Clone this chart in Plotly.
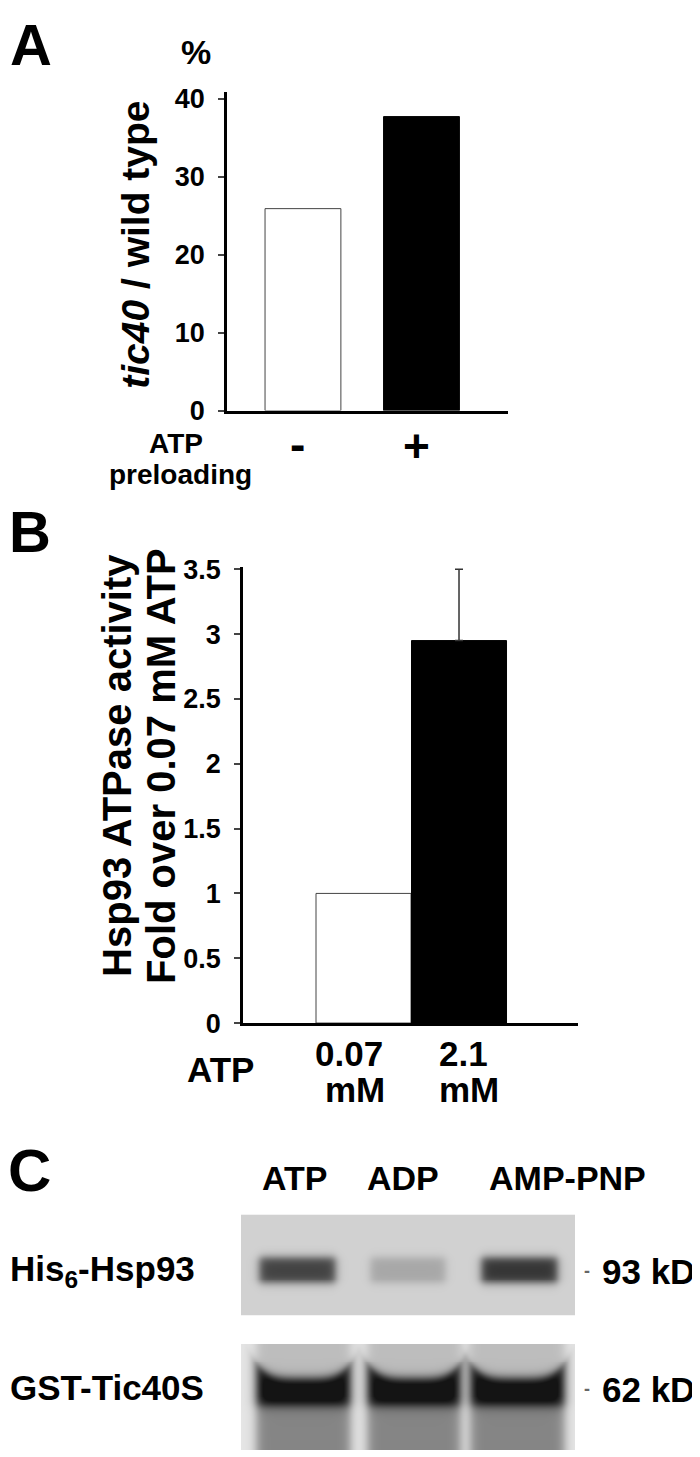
import numpy as np
import plotly.graph_objects as go

W, H = 700, 1457

# Panel A: tic40 / wild type (%)
preload = ["-", "+"]
tic40_pct = [25.9, 37.7]
a_ticks = [0, 10, 20, 30, 40]

# Panel B: Hsp93 ATPase activity, fold over 0.07 mM ATP
atp_conc = ["0.07 mM", "2.1 mM"]
fold_activity = [1.0, 2.95]
fold_err = [0.0, 0.55]
b_ticks = [0, 0.5, 1, 1.5, 2, 2.5, 3, 3.5]
b_ticktext = ["0", "0.5", "1", "1.5", "2", "2.5", "3", "3.5"]

# Panel C: pull-down, relative band darkness per lane
nucleotides = ["ATP", "ADP", "AMP-PNP"]
hsp93_band = [0.75, 0.22, 0.82]
tic40s_band = [1.0, 1.0, 1.0]
size_marks = ["93 kD", "62 kD"]

bar_fill = ["white", "black"]
bar_edge = ["#444444", "black"]

SANS = "Liberation Sans, Arial, sans-serif"


def px(x):
    return x / W


def py(y):
    return 1 - y / H


def label(text, x, y, size, angle=0, color="black", xanchor="center"):
    return dict(text=text, x=px(x), y=py(y), xref="paper", yref="paper",
                showarrow=False, textangle=angle, xanchor=xanchor, yanchor="middle",
                font=dict(size=size, family=SANS, color=color, weight="bold"))


def soft_box(t, lo, hi, soft):
    return 1 / (1 + np.exp(-(t - lo) / soft)) / (1 + np.exp((t - hi) / soft))


fig = go.Figure()

# ---- panel A bars
for i, cat in enumerate(preload):
    fig.add_trace(go.Bar(
        x=[cat], y=[tic40_pct[i]], width=0.64,
        marker=dict(color=bar_fill[i], line=dict(color=bar_edge[i], width=1)),
        xaxis="x", yaxis="y", showlegend=False, hoverinfo="skip"))

# ---- panel B bars
for i, cat in enumerate(atp_conc):
    fig.add_trace(go.Bar(
        x=[cat], y=[fold_activity[i]], width=0.995,
        marker=dict(color=bar_fill[i], line=dict(color=bar_edge[i], width=1)),
        error_y=dict(type="data", symmetric=False, array=[fold_err[i]],
                     arrayminus=[0], visible=fold_err[i] > 0,
                     color="#333333", thickness=1.5, width=4),
        xaxis="x2", yaxis="y2", showlegend=False, hoverinfo="skip"))

# ---- panel C gels
lane_top = [289, 400, 512]
lane_bot = [295, 406, 510]

cols = np.arange(233, 568)
rows_top = np.arange(1217, 1321)
X, Y = np.meshgrid(cols, rows_top)
z_top = np.full(X.shape, 0.18)
for c, d in zip(lane_top, hsp93_band):
    z_top += 0.75 * d * soft_box(X, c - 38, c + 38, 2.5) * soft_box(Y, 1261, 1287, 2.5)
fig.add_trace(go.Heatmap(x=cols, y=rows_top, z=z_top, zmin=0, zmax=1,
                         colorscale=[[0, "white"], [1, "black"]], showscale=False,
                         xaxis="x3", yaxis="y3", hoverinfo="skip"))

rows_bot = np.arange(1349, 1458)
X, Y = np.meshgrid(cols, rows_bot)
z_bot = np.full(X.shape, 0.1)
for c, d in zip(lane_bot, tic40s_band):
    lane = soft_box(X, c - 47, c + 47, 3)
    edge = (np.abs(X - c) / 47.0) ** 4
    band = soft_box(Y, 1384 - 16 * edge, 1412, 3)
    below = 1 / (1 + np.exp(-(Y - 1412) / 3))
    z_bot += lane * (0.16 + 0.22 * below + 0.75 * d * band)
z_bot = np.clip(z_bot, 0, 0.92)
fig.add_trace(go.Heatmap(x=cols, y=rows_bot, z=z_bot, zmin=0, zmax=1,
                         colorscale=[[0, "white"], [1, "black"]], showscale=False,
                         xaxis="x4", yaxis="y4", hoverinfo="skip"))

axis_line = dict(showline=True, linecolor="black", linewidth=2.5, showgrid=False,
                 zeroline=False)
tick_font = dict(size=27, family=SANS, color="black", weight="bold")

annotations = [
    label("A", 23, 25, 58),
    label("%", 188, 33, 34),
    label("<i>tic40</i> / wild type", 128, 229, 39, angle=-90),
    label("ATP", 168, 431, 28),
    label("preloading", 172, 463, 28),
    label("B", 22, 521, 58),
    label("Hsp93 ATPase activity", 109, 760, 40, angle=-90),
    label("Fold over 0.07 mM ATP", 153, 760, 40, angle=-90),
    label("ATP", 212, 1069, 35),
    label("C", 21, 1172, 60),
    label("His<sub>6</sub>-Hsp93", 0, 1275, 35, xanchor="left"),
    label("GST-Tic40S", 0, 1393, 35, xanchor="left"),
]
for cat, yy in zip(preload, [432, 434]):
    a = label(cat, 0, yy, 46)
    a.update(xref="x", x=cat, xshift=-5)
    annotations.append(a)
for cat, xs in zip(atp_conc, [-15, 4]):
    top, bottom = cat.split(" ")
    for txt, yy, shift in [(top, 1053, xs), (bottom, 1090, xs + 6)]:
        a = label(txt, 0, yy, 35)
        a.update(xref="x2", x=cat, xshift=shift)
        annotations.append(a)
for name, xx in zip(nucleotides, [286, 395, 559]):
    annotations.append(label(name, xx, 1180, 34))
for mark, yy in zip(size_marks, [1275, 1395]):
    annotations.append(label("-", 579, yy, 18, color="#666666"))
    annotations.append(label(mark, 640, yy, 35))

fig.update_layout(
    width=W, height=H, margin=dict(l=0, r=0, t=0, b=0),
    paper_bgcolor="white", plot_bgcolor="white",
    barmode="overlay", showlegend=False,
    xaxis=dict(domain=[px(219), px(500)], range=[-0.641, 1.73], anchor="y",
               ticks="", showticklabels=False, **axis_line),
    yaxis=dict(domain=[py(398), py(73)], range=[0, 40.9], anchor="x",
               tickvals=a_ticks, ticks="outside", ticklen=6, tickwidth=2,
               tickfont=tick_font, ticklabelstandoff=8, **axis_line),
    xaxis2=dict(domain=[px(235), px(570)], range=[-1.262, 2.246], anchor="y2",
                ticks="", showticklabels=False, **axis_line),
    yaxis2=dict(domain=[py(1022), py(557)], range=[0, 3.52], anchor="x2",
                tickvals=b_ticks, ticktext=b_ticktext, ticks="outside",
                ticklen=6, tickwidth=2, tickfont=tick_font,
                ticklabelstandoff=8, **axis_line),
    xaxis3=dict(domain=[px(233), px(567)], range=[232.5, 567.5], anchor="y3",
                visible=False),
    yaxis3=dict(domain=[py(1320), py(1217)], range=[1320.5, 1216.5], anchor="x3",
                visible=False),
    xaxis4=dict(domain=[px(233), px(567)], range=[232.5, 567.5], anchor="y4",
                visible=False),
    yaxis4=dict(domain=[py(1457), py(1349)], range=[1457.5, 1348.5], anchor="x4",
                visible=False),
    annotations=annotations,
)

fig.write_html("out.html")
